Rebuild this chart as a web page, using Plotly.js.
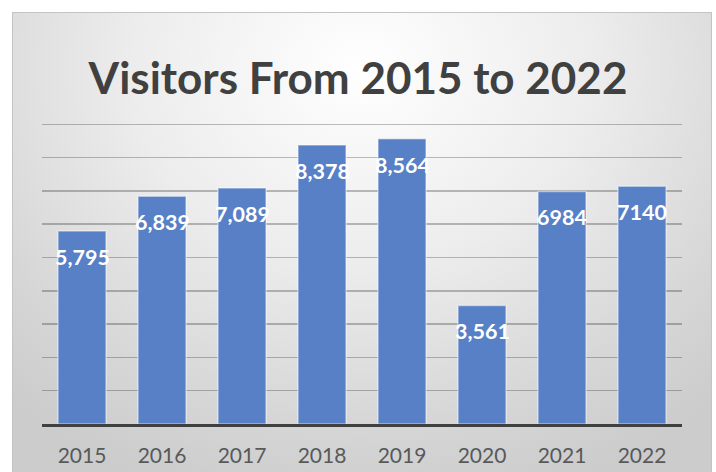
<!DOCTYPE html>
<html>
<head>
<meta charset="utf-8">
<script src="https://cdn.plot.ly/plotly-3.0.1.min.js"></script>
<style>
  html, body { margin: 0; padding: 0; background: #ffffff; }
  #wrap { position: relative; width: 716px; height: 472px; overflow: hidden; }
  #box {
    position: absolute; left: 12px; top: 12px; width: 700px; height: 470px;
    border: 1px solid #c4c4c4; box-sizing: border-box;
    background: radial-gradient(ellipse 75% 95% at 50% 12%, #ffffff 0%, #ececec 45%, #d6d6d6 80%, #cccccc 100%);
  }
  #chart { position: absolute; left: 0; top: 0; width: 716px; height: 472px; }
</style>
</head>
<body>
<div id="wrap">
  <div id="box"></div>
  <div id="chart"></div>
</div>
<script>
const years = ["2015", "2016", "2017", "2018", "2019", "2020", "2021", "2022"];
const visitors = [5795, 6839, 7089, 8378, 8564, 3561, 6984, 7140];
const dataLabels = ["5,795", "6,839", "7,089", "8,378", "8,564", "3,561", "6984", "7140"];
const chartTitle = "Visitors From 2015 to 2022";

const trace = {
  type: "bar",
  x: years,
  y: visitors,
  marker: {
    color: "rgb(88,128,198)",
    line: { color: "rgba(255,255,255,0.45)", width: 1.5 }
  },
  hoverinfo: "none"
};

// category index i on the category axis = years[i]
const annotations = years.map((yr, i) => ({
  x: i,
  y: visitors[i],
  xref: "x",
  yref: "y",
  text: "<b>" + dataLabels[i] + "</b>",
  showarrow: false,
  yanchor: "middle",
  yshift: -26,
  font: { family: "Lato, 'Open Sans', sans-serif", size: 21.5, color: "#ffffff" }
}));

const layout = {
  width: 716,
  height: 472,
  margin: { l: 42, r: 34, t: 121, b: 48 },
  paper_bgcolor: "rgba(0,0,0,0)",
  plot_bgcolor: "rgba(0,0,0,0)",
  showlegend: false,
  bargap: 0.4,
  title: {
    text: "<b>" + chartTitle + "</b>",
    font: { family: "Lato, 'Open Sans', sans-serif", size: 44, color: "#404040" },
    x: 0.5,
    xanchor: "center",
    y: 1 - 79 / 472,
    yref: "container",
    yanchor: "middle"
  },
  xaxis: {
    type: "category",
    categoryorder: "array",
    categoryarray: years,
    range: [-0.5, years.length - 0.5],
    showline: true,
    linecolor: "#404040",
    linewidth: 3,
    showgrid: false,
    ticks: "outside",
    ticklen: 11,
    tickcolor: "rgba(0,0,0,0)",
    tickfont: { family: "Lato, 'Open Sans', sans-serif", size: 21, color: "#595959" }
  },
  yaxis: {
    range: [0, 9100],
    dtick: 1000,
    tick0: 0,
    showticklabels: false,
    showgrid: true,
    gridcolor: "rgba(0,0,0,0.25)",
    gridwidth: 1.5,
    zeroline: false,
    showline: false
  },
  annotations: annotations
};

Plotly.newPlot("chart", [trace], layout, { staticPlot: true, displayModeBar: false });
</script>
</body>
</html>
